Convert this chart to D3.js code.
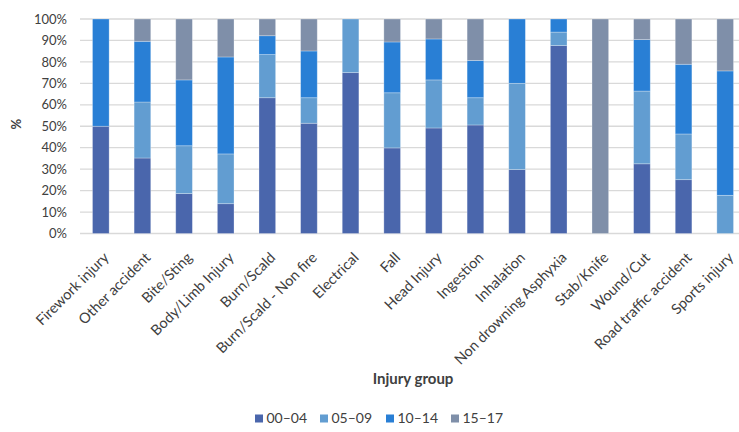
<!DOCTYPE html>
<html>
<head>
<meta charset="utf-8">
<script src="https://cdn.jsdelivr.net/npm/d3@7"></script>
<style>
  body { margin: 0; background: #fff; }
  text { font-family: Lato, "Open Sans", sans-serif; fill: #404040; }
</style>
</head>
<body>
<div id="chart"></div>
<script>
// categories and series (percent of each injury group)
var groups = ["Firework injury", "Other accident", "Bite/Sting", "Body/Limb Injury", "Burn/Scald",
  "Burn/Scald - Non fire", "Electrical", "Fall", "Head Injury", "Ingestion", "Inhalation",
  "Non drowning Asphyxia", "Stab/Knife", "Wound/Cut", "Road traffic accident", "Sports injury"];
var ageBands = ["00\u201304", "05\u201309", "10\u201314", "15\u201317"];
var age0004 = [50, 35.2, 18.6, 13.9, 63.3, 51.4, 75, 39.9, 49.2, 50.6, 29.8, 87.6, 0, 32.5, 25.1, 0];
var age0509 = [0, 26.1, 22.3, 23.2, 20.1, 11.9, 25, 25.7, 22.4, 12.7, 40.2, 6.3, 0, 33.9, 21.3, 17.8];
var age1014 = [50, 28.3, 30.7, 45.2, 8.8, 21.8, 0, 23.7, 19.1, 17.4, 30, 6.1, 0, 24, 32.5, 58];
var age1517 = [0, 10.4, 28.4, 17.7, 7.8, 14.9, 0, 10.7, 9.3, 19.3, 0, 0, 100, 9.6, 21.1, 24.2];
var yTicks = [0, 10, 20, 30, 40, 50, 60, 70, 80, 90, 100];
var colors = ["#4a66ac", "#629dd1", "#297fd5", "#7f8fa9"];

var W = 739, H = 432;
var margin = {top: 19, right: -7, bottom: 198.5, left: 80};
var width = W - margin.left - margin.right,
    height = H - margin.top - margin.bottom;

var svg = d3.select("#chart").append("svg")
    .attr("width", W)
    .attr("height", H)
  .append("g")
    .attr("transform", "translate(" + margin.left + "," + margin.top + ")");

var rows = groups.map(function(g, i) {
  return {group: g, "00\u201304": age0004[i], "05\u201309": age0509[i], "10\u201314": age1014[i], "15\u201317": age1517[i]};
});
var stacked = d3.stack().keys(ageBands)(rows);

var x = d3.scaleBand().domain(groups).range([0, width]).paddingInner(0.6).paddingOuter(0.3);
var y = d3.scaleLinear().domain([0, 100]).range([height, 0]);

// gridlines
svg.append("g")
  .selectAll("line")
  .data(yTicks)
  .enter().append("line")
    .attr("x1", 0)
    .attr("x2", W)
    .attr("y1", function(d) { return y(d); })
    .attr("y2", function(d) { return y(d); })
    .attr("stroke", "#d9d9d9")
    .attr("stroke-width", 1.3);

// Y axis
var yAxis = svg.append("g")
  .call(d3.axisLeft(y).tickValues(yTicks).tickSize(0).tickPadding(13).tickFormat(function(d) { return d + "%"; }));
yAxis.select(".domain").remove();
yAxis.selectAll("text").style("font-size", "13px").attr("fill", "#404040");

// bars
svg.append("g")
  .selectAll("g")
  .data(stacked)
  .enter().append("g")
    .attr("fill", function(d, i) { return colors[i]; })
  .selectAll("rect")
  .data(function(d) { return d; })
  .enter().append("rect")
    .attr("x", function(d) { return x(d.data.group); })
    .attr("width", x.bandwidth())
    .attr("y", function(d) { return y(d[1]); })
    .attr("height", function(d) { return y(d[0]) - y(d[1]); })
    .attr("stroke", "#ffffff")
    .attr("stroke-opacity", 0.35)
    .attr("stroke-width", 0.8);

// X axis
var xAxis = svg.append("g")
  .attr("transform", "translate(0," + height + ")")
  .call(d3.axisBottom(x).tickSize(0).tickPadding(0));
xAxis.select(".domain").remove();
xAxis.selectAll("text")
  .style("font-size", "14.5px")
  .attr("fill", "#404040")
  .attr("dy", 0)
  .attr("transform", "translate(9,25)rotate(-45)")
  .style("text-anchor", "end");

// axis titles
svg.append("text")
  .attr("x", 333)
  .attr("y", height + 150)
  .style("text-anchor", "middle")
  .style("font-size", "15px")
  .style("font-weight", "bold")
  .text("Injury group");

svg.append("text")
  .attr("transform", "rotate(-90)")
  .attr("x", -height / 2 + 2)
  .attr("y", -59)
  .style("text-anchor", "middle")
  .style("font-size", "13px")
  .style("font-weight", "bold")
  .text("%");

// legend
var legendX = [175, 240, 306, 371];
var legend = svg.append("g")
  .attr("transform", "translate(0," + (height + 185) + ")");
var item = legend.selectAll("g")
  .data(ageBands)
  .enter().append("g")
    .attr("transform", function(d, i) { return "translate(" + legendX[i] + ",0)"; });
item.append("rect")
  .attr("width", 8)
  .attr("height", 8)
  .attr("y", -4)
  .attr("fill", function(d, i) { return colors[i]; });
item.append("text")
  .attr("x", 11.5)
  .attr("dy", "0.35em")
  .style("font-size", "14px")
  .text(function(d) { return d; });
</script>
</body>
</html>
